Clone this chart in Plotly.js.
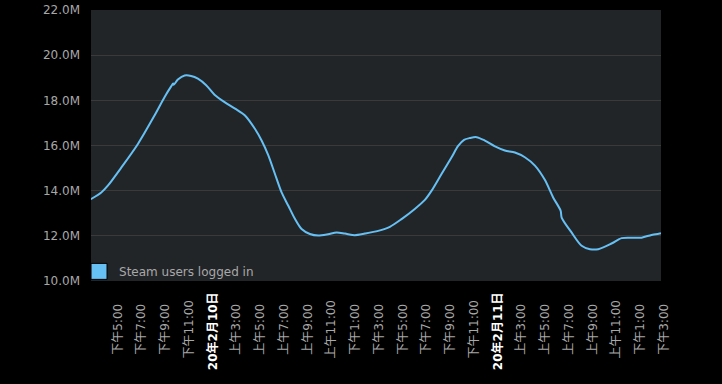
<!DOCTYPE html>
<html>
<head>
<meta charset="utf-8">
<script src="https://cdn.plot.ly/plotly-3.0.1.min.js"></script>
<style>html,body{margin:0;padding:0;background:#000;}#chart{width:722px;height:384px;}</style>
</head>
<body>
<div id="chart"></div>
<script>
const times = [
  '2020-02-09 15:04','2020-02-09 15:57','2020-02-09 16:30','2020-02-09 17:37','2020-02-09 19:02',
  '2020-02-09 20:26','2020-02-09 21:17','2020-02-09 21:50','2020-02-09 22:00','2020-02-09 22:03',
  '2020-02-09 22:24','2020-02-09 22:58','2020-02-09 23:31','2020-02-10 00:05','2020-02-10 00:47',
  '2020-02-10 01:29','2020-02-10 02:20','2020-02-10 03:13','2020-02-10 04:03','2020-02-10 04:53',
  '2020-02-10 05:27','2020-02-10 06:01','2020-02-10 06:34','2020-02-10 07:08','2020-02-10 07:42',
  '2020-02-10 08:16','2020-02-10 08:49','2020-02-10 09:31','2020-02-10 10:13','2020-02-10 11:03',
  '2020-02-10 11:46','2020-02-10 12:28','2020-02-10 13:18','2020-02-10 14:09','2020-02-10 15:16',
  '2020-02-10 16:15','2020-02-10 17:14','2020-02-10 18:21','2020-02-10 19:12','2020-02-10 19:46',
  '2020-02-10 20:36','2020-02-10 21:27','2020-02-10 22:00','2020-02-10 22:30','2020-02-10 22:59',
  '2020-02-10 23:33','2020-02-11 00:15','2020-02-11 01:06','2020-02-11 01:56','2020-02-11 02:47',
  '2020-02-11 03:37','2020-02-11 04:28','2020-02-11 05:18','2020-02-11 06:00','2020-02-11 06:38',
  '2020-02-11 06:43','2020-02-11 07:33','2020-02-11 08:24','2020-02-11 09:06','2020-02-11 09:48',
  '2020-02-11 10:55','2020-02-11 11:46','2020-02-11 12:36','2020-02-11 13:27','2020-02-11 14:17',
  '2020-02-11 14:59','2020-02-11 15:05'
];
const usersMillions = [
  13.62,13.92,14.22,15.01,16.07,
  17.33,18.15,18.62,18.74,18.69,
  18.92,19.10,19.08,18.96,18.67,
  18.25,17.92,17.63,17.33,16.74,
  16.22,15.56,14.75,13.92,13.33,
  12.74,12.30,12.08,12.01,12.07,
  12.15,12.10,12.03,12.10,12.22,
  12.40,12.74,13.19,13.59,14.00,
  14.74,15.48,15.98,16.25,16.33,
  16.37,16.22,15.96,15.78,15.69,
  15.48,15.11,14.48,13.70,13.11,
  12.81,12.15,11.56,11.41,11.41,
  11.66,11.90,11.92,11.92,12.04,
  12.10,12.11
];
const tickTimes = [
  '2020-02-09 17:00','2020-02-09 19:00','2020-02-09 21:00','2020-02-09 23:00',
  '2020-02-10 01:00','2020-02-10 03:00','2020-02-10 05:00','2020-02-10 07:00','2020-02-10 09:00',
  '2020-02-10 11:00','2020-02-10 13:00','2020-02-10 15:00','2020-02-10 17:00','2020-02-10 19:00',
  '2020-02-10 21:00','2020-02-10 23:00','2020-02-11 01:00','2020-02-11 03:00','2020-02-11 05:00',
  '2020-02-11 07:00','2020-02-11 09:00','2020-02-11 11:00','2020-02-11 13:00','2020-02-11 15:00'
];
const tickLabels = [
  '下午5:00','下午7:00','下午9:00','下午11:00',
  '20年2月10日','上午3:00','上午5:00','上午7:00','上午9:00',
  '上午11:00','下午1:00','下午3:00','下午5:00','下午7:00',
  '下午9:00','下午11:00','20年2月11日','上午3:00','上午5:00',
  '上午7:00','上午9:00','上午11:00','下午1:00','下午3:00'
];
const seriesName = 'Steam users logged in';

const NB = '\u00a0';
const tickText = tickLabels.map(function (t) {
  if (t.indexOf('日') >= 0) return '<b><span style="color:#ffffff">' + t + '</span></b>';
  const pad = t.indexOf('11:') >= 0 ? 2 : 3;
  return t + NB.repeat(pad);
});

const FONT = 'DejaVu Sans, Noto Sans CJK SC, sans-serif';
const data = [
  {
    x: times, y: usersMillions, type: 'scatter', mode: 'lines',
    line: {color: '#66c0f4', width: 2, shape: 'spline', smoothing: 0.8},
    name: seriesName, showlegend: false, hoverinfo: 'x+y'
  },
  {
    x: [null], y: [null], type: 'scatter', mode: 'markers',
    marker: {symbol: 'square', size: 16, color: '#66c0f4', line: {color: '#000000', width: 1}},
    name: seriesName, showlegend: true
  }
];
const layout = {
  width: 722, height: 384,
  margin: {l: 91, r: 61, t: 10, b: 103},
  paper_bgcolor: '#000000',
  plot_bgcolor: '#222528',
  font: {family: FONT, size: 12, color: '#a8a8a8'},
  showlegend: true,
  legend: {
    x: -0.021, y: -0.018, xanchor: 'left', yanchor: 'bottom',
    bgcolor: 'rgba(0,0,0,0)', font: {family: FONT, size: 12, color: '#a8a8a8'},
    itemsizing: 'trace'
  },
  xaxis: {
    type: 'date',
    range: ['2020-02-09 15:05', '2020-02-11 15:05'],
    tickmode: 'array', tickvals: tickTimes, ticktext: tickText,
    tickangle: -90, showgrid: false, zeroline: false, showline: false,
    ticks: '', ticklabelstandoff: 8, ticklabelshift: 4,
    tickfont: {family: FONT, size: 12, color: '#a8a8a8'}
  },
  yaxis: {
    range: [10, 22], dtick: 2, tick0: 10,
    tickformat: '.1f', ticksuffix: 'M',
    gridcolor: '#3a3a3a', gridwidth: 1, zeroline: false, showline: false,
    ticks: '', ticklabelstandoff: 10,
    tickfont: {family: FONT, size: 12, color: '#a8a8a8'}
  }
};
Plotly.newPlot('chart', data, layout, {displayModeBar: false, staticPlot: true});
</script>
</body>
</html>
